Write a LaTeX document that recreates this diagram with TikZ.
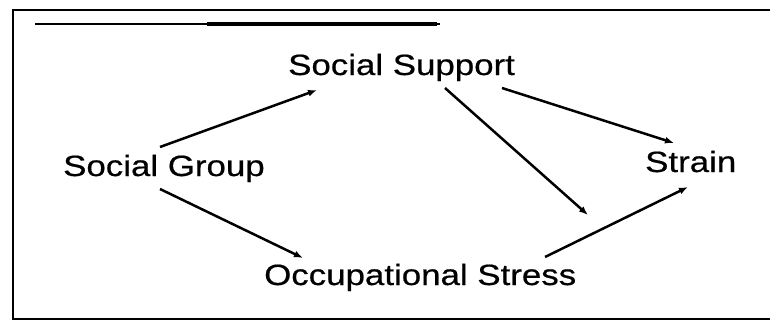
\documentclass[tikz,border=0pt]{standalone}
\usepackage{fontspec}
\usetikzlibrary{arrows.meta,calc}
\newfontfamily\labfont[FakeStretch=1.19,FakeBold=0.6]{Liberation Sans}
\tikzset{
  lab/.style={inner sep=0pt,anchor=base west,font=\labfont\fontsize{29.3}{32}\selectfont},
  conn/.style={line width=2.5pt,-{Latex[length=9pt,width=7pt]}},
  frameline/.style={line width=2pt},
}
\begin{document}
\begin{tikzpicture}[x=1pt,y=-1pt]
\useasboundingbox (0,0) rectangle (770,324);
% frame
\draw[frameline] (770,10) -- (13,10) -- (13,319) -- (770,319);
% heading rule
\draw[line width=1.5pt] (35,24) -- (440,24);
\draw[line width=4pt] (207,23.5) -- (437,23.5);
% nodes
\node[lab] (sg) at (63,176) {Social Group};
\node[lab] (ss) at (288,75) {Social Support};
\node[lab] (st) at (645,172) {Strain};
\node[lab] (os) at (264,285) {Occupational Stress};
\coordinate (m) at (588,215);
% connectors
\draw[conn] ($(sg.base west)+(97,-29)$) -- ($(ss.base west)+(29,15)$);
\draw[conn] ($(sg.base west)+(97,13)$) -- ($(os.base west)+(39,-27)$);
\draw[conn] ($(ss.base west)+(214,13)$) -- ($(st.base west)+(29,-29)$);
\draw[conn] ($(ss.base west)+(157,13)$) -- (m);
\draw[conn] ($(os.base west)+(281,-28)$) -- ($(st.base west)+(43,15)$);
\end{tikzpicture}
\end{document}
